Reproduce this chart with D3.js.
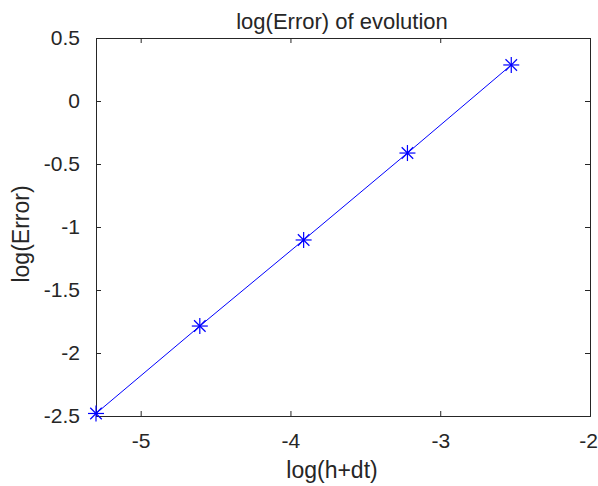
<!DOCTYPE html>
<html><head><meta charset="utf-8">
<script src="https://cdn.jsdelivr.net/npm/d3@7"></script>
<style>body{margin:0;background:#fff}svg{display:block}text{font-family:"Liberation Sans",Arial,sans-serif;fill:#262626}</style>
</head><body>
<svg id="c" width="598" height="486"></svg>
<script>
const xValues = [-5.2983, -4.6052, -3.9120, -3.2189, -2.5257];
const yValues = [-2.48, -1.786, -1.103, -0.413, 0.286];
const xTicks = [-5, -4, -3, -2];
const yTicks = [0.5, 0, -0.5, -1, -1.5, -2, -2.5];
const title = "log(Error) of evolution";
const xLabel = "log(h+dt)";
const yLabel = "log(Error)";

const svg = d3.select("#c");
const L = 96, R = 590, T = 38, B = 416;
const x = d3.scaleLinear().domain([-5.2983, -2]).range([L, R]);
const y = d3.scaleLinear().domain([-2.5, 0.5]).range([B, T]);
const ax = "#262626";
const fmt = d => String(d);

const gx = svg.append("g").attr("transform", `translate(0,${B})`)
  .call(d3.axisBottom(x).tickValues(xTicks).tickSize(-5).tickPadding(17).tickFormat(fmt));
const gxt = svg.append("g").attr("transform", `translate(0,${T})`)
  .call(d3.axisTop(x).tickValues(xTicks).tickSize(-5).tickFormat(""));
const gy = svg.append("g").attr("transform", `translate(${L},0)`)
  .call(d3.axisLeft(y).tickValues(yTicks).tickSize(-5).tickPadding(16).tickFormat(fmt));
const gyr = svg.append("g").attr("transform", `translate(${R},0)`)
  .call(d3.axisRight(y).tickValues(yTicks).tickSize(-5).tickFormat(""));
[gx, gxt, gy, gyr].forEach(g => {
  g.select(".domain").attr("stroke", ax).attr("stroke-width", 1);
  g.selectAll(".tick line").attr("stroke", ax);
  g.selectAll("text").style("font-size", "21px").attr("fill", ax);
});
gx.selectAll(".tick text").attr("dy", "0.71em");
gx.selectAll(".tick text").filter(d => d === -2).attr("dx", "-2");

const line = d3.line().x((d, i) => x(xValues[i])).y(d => y(d));
svg.append("path").datum(yValues).attr("d", line).attr("fill", "none").attr("stroke", "#0000ff").attr("stroke-width", 1);

const star = (cx, cy) => {
  const r = 8, g = svg.append("g").attr("stroke", "#0000ff").attr("stroke-width", 1.2);
  g.append("line").attr("x1", cx - r).attr("x2", cx + r).attr("y1", cy).attr("y2", cy);
  g.append("line").attr("x1", cx).attr("x2", cx).attr("y1", cy - r).attr("y2", cy + r);
  const d = r * 0.72;
  g.append("line").attr("x1", cx - d).attr("x2", cx + d).attr("y1", cy - d).attr("y2", cy + d);
  g.append("line").attr("x1", cx - d).attr("x2", cx + d).attr("y1", cy + d).attr("y2", cy - d);
};
yValues.forEach((v, i) => star(x(xValues[i]), y(v)));

svg.append("text").attr("x", 342).attr("y", 29).attr("text-anchor", "middle").style("font-size", "22px").text(title);
svg.append("text").attr("x", 332).attr("y", 478).attr("text-anchor", "middle").style("font-size", "23px").text(xLabel);
svg.append("text").attr("transform", `translate(29,234) rotate(-90)`).attr("text-anchor", "middle").style("font-size", "23px").text(yLabel);
</script>
</body></html>
